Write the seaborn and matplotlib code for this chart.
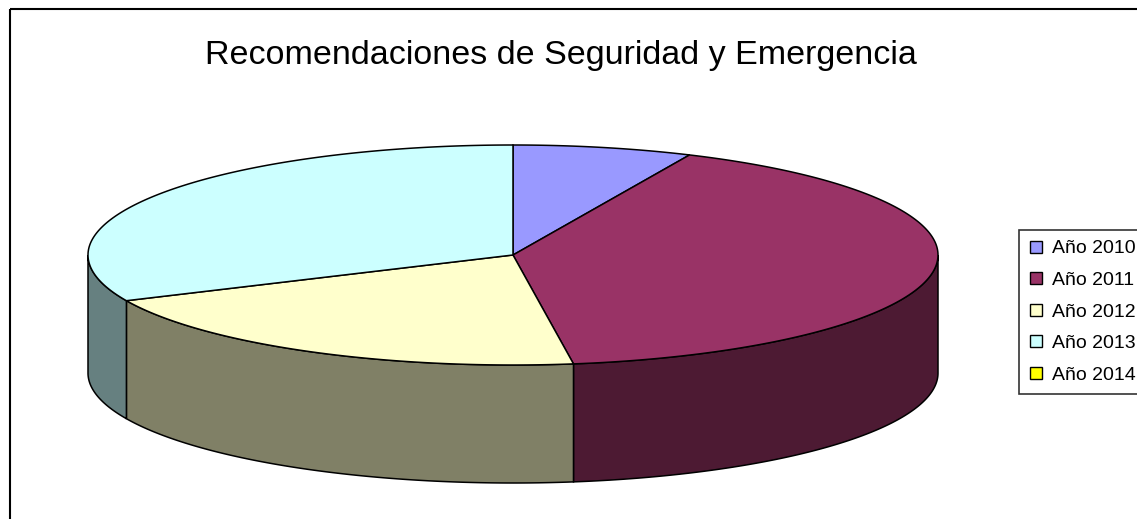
import numpy as np
import matplotlib
matplotlib.use("Agg")
import matplotlib.pyplot as plt
from matplotlib.patches import Polygon, Rectangle
from matplotlib.lines import Line2D
import seaborn as sns

# datos
anios = ["Año 2010", "Año 2011", "Año 2012", "Año 2013", "Año 2014"]
valores = [3, 18, 9, 14, 0]
colores_top = ["#9999FF", "#993366", "#FFFFCC", "#CCFFFF", "#FFFF00"]

titulo = "Recomendaciones de Seguridad y Emergencia"

sns.set_style("white")
plt.rcParams["font.family"] = ["Liberation Sans", "DejaVu Sans"]
plt.rcParams["text.color"] = "black"

# colores de los laterales: mitad de brillo
pal = sns.color_palette(colores_top)
colores_lado = [tuple(c * 0.5 for c in col) for col in pal]

fig = plt.figure(figsize=(11.37, 5.19), dpi=100)
ax = fig.add_axes([0, 0, 1, 1])
ax.set_xlim(0, 1137)
ax.set_ylim(519, 0)
ax.axis("off")

# geometria de la tarta 3D
cx, cy = 513, 255
rx, ry = 425, 110
prof = 118


def punto(theta):
    # angulo en grados, sentido horario desde arriba
    t = np.radians(theta)
    return cx + rx * np.sin(t), cy - ry * np.cos(t)


total = sum(valores)
angs = np.concatenate([[0], np.cumsum(valores) / total * 360])

# laterales (mitad frontal: 90..270)
for i in range(len(valores)):
    a0, a1 = angs[i], angs[i + 1]
    lo, hi = max(a0, 90), min(a1, 270)
    if hi <= lo:
        continue
    th = np.linspace(lo, hi, 200)
    xs, ys = punto(th)
    pts = list(zip(xs, ys)) + list(zip(xs[::-1], ys[::-1] + prof))
    ax.add_patch(Polygon(pts, closed=True, facecolor=colores_lado[i],
                         edgecolor="black", lw=1.1))

# caras superiores
for i in range(len(valores)):
    a0, a1 = angs[i], angs[i + 1]
    if a1 <= a0:
        continue
    th = np.linspace(a0, a1, 300)
    xs, ys = punto(th)
    pts = [(cx, cy)] + list(zip(xs, ys))
    ax.add_patch(Polygon(pts, closed=True, facecolor=pal[i],
                         edgecolor="black", lw=1.1))

# titulo
ax.text(561, 64, titulo, ha="center", va="baseline", fontsize=24.5,
        color="black")

# marco del grafico
ax.add_patch(Rectangle((10, 9), 1200, 600, fill=False, edgecolor="black",
                       lw=1.5, clip_on=False))

handles = [Line2D([0], [0], marker="s", linestyle="none", markersize=8,
                  markerfacecolor=pal[i], markeredgecolor="black",
                  markeredgewidth=1) for i in range(len(anios))]
leg = fig.legend(handles, anios, loc="upper left",
                 bbox_to_anchor=(1019 / 1137, 1 - 230 / 519),
                 frameon=True, fancybox=False, shadow=False,
                 fontsize=14, handlelength=0.7, handletextpad=0.5,
                 labelspacing=0.72, borderpad=0.5, borderaxespad=0)
leg.get_frame().set_edgecolor("black")
leg.get_frame().set_linewidth(1.2)
for t in leg.get_texts():
    t.set_color("black")

fig.savefig("out.png", dpi=100)
